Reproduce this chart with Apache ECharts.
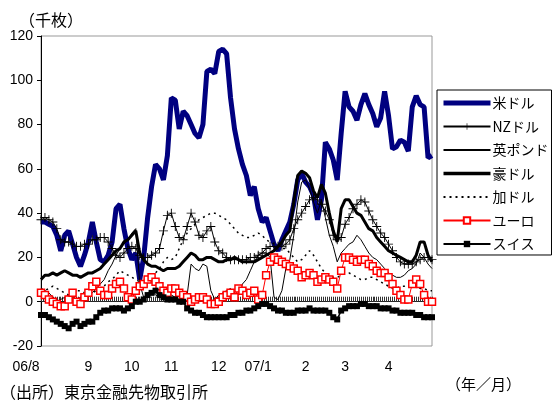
<!DOCTYPE html>
<html>
<head>
<meta charset="utf-8">
<script src="https://cdn.jsdelivr.net/npm/echarts@6/dist/echarts.min.js"></script>
<style>
html,body{margin:0;padding:0;background:#fff;}
#chart{width:555px;height:403px;}
</style>
</head>
<body>
<div id="chart"></div>
<script>
// Daily observations, Aug 2006 - Apr 2007 (index 0..99)
const monthTickIdx = [0, 12, 23, 33, 45, 55, 67, 77, 88];
const monthLabels = ['06/8', '9', '10', '11', '12', '07/1', '2', '3', '4'];
const seriesNames = ['米ドル', 'NZドル', '英ポンド', '豪ドル', '加ドル', 'ユーロ', 'スイス'];

const usd = [36,36,35,34,30,23,30,32,26,20, 16,21,27,36,27,19,18,21,27,42,
  44,33,24,19,22,10,20,38,52,62, 60,55,66,92,91,78,86,84,80,76,
  74,80,104,105,103,113,114,112,92,78, 69,62,57,48,52,42,36,38,32,26,
  23,28,32,36,44,55,58,54,52,48, 37,46,72,69,64,55,76,95,88,86,
  82,89,94,89,85,79,83,95,84,69, 70,73,72,68,88,93,89,88,65,66];
const nzd = [37,38,37,36,33,28,27,27,26,25, 25,26,26,28,28,29,29,27,24,21,
  20,22,24,25,24,21,20,20,21,22, 24,32,39,40,34,29,28,34,40,36,
  30,29,32,34,27,23,22,20,19,19, 19,19,19,20,20,21,22,24,25,25,
  25,25,26,28,33,37,40,43,46,47, 46,44,41,37,30,28,29,35,38,42,
  44,46,45,41,37,34,31,29,26,23, 20,18,17,17,17,18,19,20,20,19];
const gbp = [3,5,4,2,0,1,2,3,2,1, 2,3,5,4,6,8,10,14,17,21,
  24,26,28,31,33,8,2,4,5,3, 2,3,4,3,2,1,2,3,17,15,
  14,17,16,5,1,3,4,5,6,4, 3,8,10,14,18,21,22,22,20,2,
  1,5,15,19,30,45,54,55,51,45, 40,46,38,30,25,18,22,24,26,27,
  30,28,25,22,20,19,17,15,13,12, 11,11,12,14,15,17,22,20,17,15];
const aud = [10,12,12,13,12,13,14,13,12,12, 11,12,13,13,14,15,17,19,21,23,
  24,27,28,30,32,22,19,17,16,16, 15,14,15,15,15,16,18,20,22,21,
  19,19,20,20,19,18,18,19,19,20, 19,18,18,18,18,19,20,21,22,23,
  25,27,30,32,45,57,59,58,56,50, 47,53,49,40,32,27,42,46,46,43,
  40,39,36,33,32,29,27,25,23,22, 21,20,19,18,18,21,27,27,21,18];
const cad = [6,5,6,7,6,5,4,3,4,5, 5,4,3,4,5,6,7,9,10,12,
  14,13,12,11,10,9,8,9,11,13, 15,18,20,19,20,24,28,31,33,35,
  37,38,39,40,40,39,38,37,35,33, 31,30,29,29,30,31,30,28,27,26,
  25,24,24,22,20,18,19,21,23,21, 18,15,13,12,11,11,12,13,13,12,
  11,10,10,11,11,10,9,8,7,6, 6,7,7,8,8,7,6,6,5,5];
const eur = [4,3,1,0,-1,-2,-2,1,4,0, -1,2,4,7,9,5,3,3,6,8,
  9,6,2,1,5,7,8,10,11,9, 7,5,4,6,6,4,3,2,0,1,
  2,2,1,-1,-1,0,2,3,4,2, 6,5,3,4,5,1,3,12,18,20,
  19,18,17,16,15,14,11,12,13,12, 9,10,11,10,9,6,14,20,20,19,
  18,19,19,17,16,14,13,13,11,8, 5,3,1,1,8,10,8,3,0,0];
const chf = [-6,-6,-7,-8,-9,-10,-11,-12,-10,-9, -11,-10,-9,-9,-7,-5,-4,-4,-3,-3,
  -3,-4,-3,-2,0,0,1,3,4,5, 3,2,1,1,1,0,0,-3,-4,-5,
  -5,-6,-7,-7,-7,-7,-7,-7,-6,-6, -5,-5,-4,-4,-3,-2,-1,-1,-2,-3,
  -4,-4,-5,-5,-5,-4,-4,-4,-3,-4, -4,-4,-4,-5,-7,-8,-4,-3,-2,-2,
  -2,-1,-1,-2,-2,-2,-3,-3,-3,-4, -4,-5,-5,-5,-5,-6,-6,-7,-7,-7];

const lastIdx = usd.length - 1;
const dayIdx = usd.map((_, i) => String(i));
const pts = arr => arr.map((v, i) => [i, v]);
const FONT = "'Liberation Sans', 'Noto Sans CJK JP', sans-serif";
const CJK = "'Noto Sans CJK JP', 'Liberation Sans', sans-serif";
const plusPath = 'path://M0,4.5H10V5.5H0Z M4.5,0H5.5V10H4.5Z';
const noMark = {color: 'rgba(0,0,0,0)', borderColor: 'rgba(0,0,0,0)', borderWidth: 0};

const chart = echarts.init(document.getElementById('chart'), null, {renderer: 'canvas'});
chart.setOption({
  animation: false,
  backgroundColor: '#fff',
  grid: {left: 41, right: 123, top: 36, bottom: 57, show: true, borderColor: '#999', borderWidth: 1, backgroundColor: 'transparent'},
  xAxis: [
    { // zero line with a tick per half day
      type: 'value', position: 'top', min: 0, max: lastIdx, interval: 1,
      axisLine: {show: true, onZero: true, lineStyle: {color: '#222', width: 1}},
      axisTick: {show: true, inside: false, length: 5, lineStyle: {color: '#333', width: 1}},
      minorTick: {show: true, splitNumber: 2, length: 5, lineStyle: {color: '#333', width: 1}},
      axisLabel: {show: false}, splitLine: {show: false}
    },
    { // month labels
      type: 'category', position: 'bottom', data: dayIdx, boundaryGap: false,
      axisLine: {show: false, onZero: false}, axisTick: {show: false}, splitLine: {show: false},
      axisLabel: {
        show: true, margin: 14,
        interval: idx => monthTickIdx.indexOf(idx) >= 0,
        color: '#000', fontFamily: FONT, fontSize: 14,
        formatter: (v, k) => {
          const m = monthTickIdx.indexOf(k);
          return m === 0 ? '{first|' + monthLabels[0] + '}' : monthLabels[m];
        },
        rich: {first: {fontFamily: FONT, fontSize: 14, color: '#000', padding: [0, 30, 0, 0]}}
      }
    }
  ],
  yAxis: {
    type: 'value', min: -20, max: 120, interval: 20,
    axisLine: {show: true, onZero: false, lineStyle: {color: '#000', width: 1}},
    axisTick: {show: true, length: 4, lineStyle: {color: '#000'}},
    axisLabel: {color: '#000', fontFamily: FONT, fontSize: 14, margin: 8},
    splitLine: {show: false}
  },
  legend: {
    orient: 'vertical', left: 437, top: 90, padding: [6, 3, 4, 4],
    itemWidth: 47, itemHeight: 8, itemGap: 9.5,
    borderColor: '#000', borderWidth: 1, backgroundColor: '#fff',
    textStyle: {fontFamily: CJK, fontSize: 14, color: '#000', padding: [0, 0, 0, -3]},
    data: [
      {name: seriesNames[0], itemStyle: noMark, lineStyle: {width: 5}},
      {name: seriesNames[1]},
      {name: seriesNames[2], itemStyle: noMark},
      {name: seriesNames[3], itemStyle: noMark, lineStyle: {width: 3.5}},
      {name: seriesNames[4], itemStyle: noMark},
      {name: seriesNames[5]},
      {name: seriesNames[6]}
    ]
  },
  graphic: [
    {type: 'text', left: 19, top: 12, style: {text: '（千枚）', font: '16px ' + CJK, fill: '#000'}},
    {type: 'text', left: 0, top: 384, style: {text: '（出所）東京金融先物取引所', font: '16px ' + CJK, fill: '#000'}},
    {type: 'text', left: 446, top: 377, style: {text: '（年／月）', font: '15px ' + CJK, fill: '#000'}}
  ],
  series: [
    {name: seriesNames[0], type: 'line', xAxisIndex: 0, data: pts(usd), symbol: 'none',
      lineStyle: {color: '#000080', width: 5}, itemStyle: {color: '#000080'}},
    {name: seriesNames[1], type: 'line', xAxisIndex: 0, data: pts(nzd), symbol: plusPath, symbolSize: 9,
      lineStyle: {color: '#000', width: 1}, itemStyle: {color: '#000'}},
    {name: seriesNames[2], type: 'line', xAxisIndex: 0, data: pts(gbp), symbol: 'none',
      lineStyle: {color: '#000', width: 1}, itemStyle: {color: '#000'}},
    {name: seriesNames[3], type: 'line', xAxisIndex: 0, data: pts(aud), symbol: 'none',
      lineStyle: {color: '#000', width: 3}, itemStyle: {color: '#000'}},
    {name: seriesNames[4], type: 'line', xAxisIndex: 0, data: pts(cad), symbol: 'none',
      lineStyle: {color: '#000', width: 1.5, type: [2, 4]}, itemStyle: {color: '#000'}},
    {name: seriesNames[5], type: 'line', xAxisIndex: 0, data: pts(eur), symbol: 'rect', symbolSize: 7,
      lineStyle: {color: '#ff0000', width: 1}, itemStyle: {color: '#fff', borderColor: '#ff0000', borderWidth: 1.5}},
    {name: seriesNames[6], type: 'line', xAxisIndex: 0, data: pts(chf), symbol: 'rect', symbolSize: 6,
      lineStyle: {color: '#000', width: 1.5}, itemStyle: {color: '#000'}}
  ]
});
</script>
</body>
</html>
